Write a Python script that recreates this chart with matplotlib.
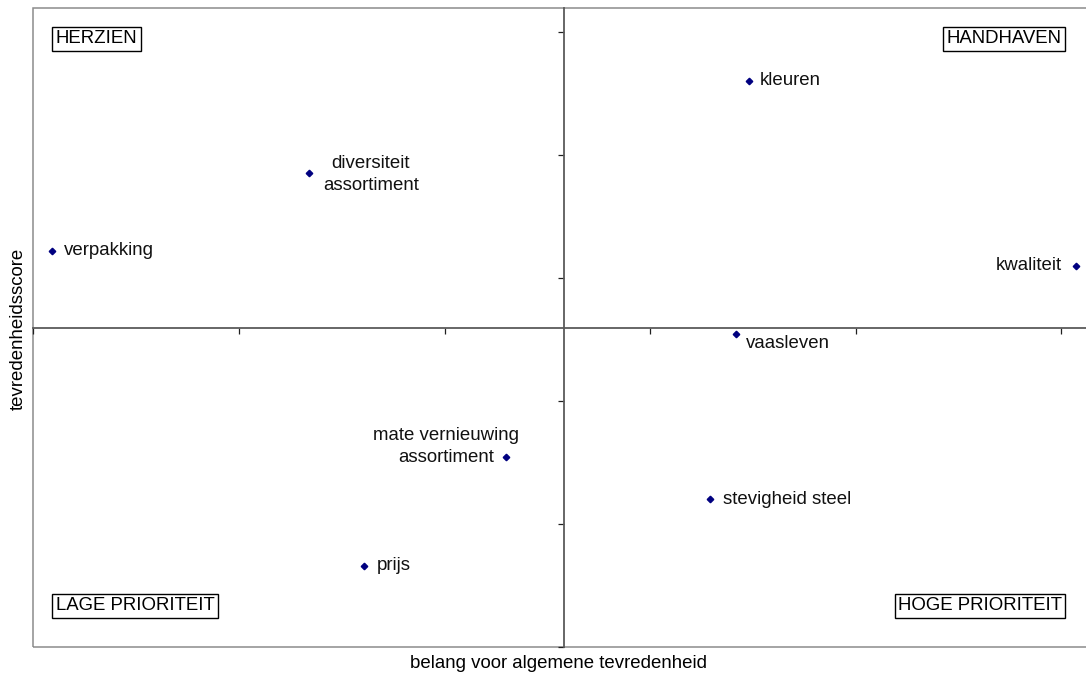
import matplotlib
matplotlib.use("Agg")
import matplotlib.pyplot as plt
from matplotlib.patches import Rectangle

plt.rcParams['font.family'] = ['Liberation Sans', 'DejaVu Sans']

# belang (x) en tevredenheid (y) per aspect
aspecten = ['verpakking', 'diversiteit\nassortiment', 'kleuren', 'kwaliteit',
            'vaasleven', 'mate vernieuwing\nassortiment', 'stevigheid steel', 'prijs']
belang = [0.309, 0.434, 0.648, 0.807, 0.642, 0.530, 0.629, 0.461]
tevredenheid = [7.645, 7.772, 7.921, 7.620, 7.509, 7.309, 7.241, 7.133]

# kruispunt van de assen (gemiddelden)
x_kruis = 0.558
y_kruis = 7.519

x_ticks = [0.3, 0.4, 0.5, 0.6, 0.7, 0.8]
y_ticks = [7.0, 7.2, 7.4, 7.6, 7.8, 8.0]

kwadranten = ['HERZIEN', 'HANDHAVEN', 'LAGE PRIORITEIT', 'HOGE PRIORITEIT']

# label offsets in pixels (dx, dy, ha)
label_pos = [(12, 0, 'left'), (62, -2, 'center'), (11, 0, 'left'), (-14, 0, 'right'),
             (9, -9, 'left'), (-60, 11, 'center'), (13, 0, 'left'), (12, 0, 'left')]

fig = plt.figure(figsize=(10.86, 6.75), dpi=100)
ax = fig.add_axes([33.3 / 1086, 27.7 / 675, 1056.7 / 1086, 639 / 675])
ax.set_xlim(0.3, 0.3 + 0.1 * 1056.7 / 205.6)
ax.set_ylim(7.0, 7.0 + 0.2 * 639 / 123)

# frame
ax.add_patch(Rectangle((0, 0), 1, 1, transform=ax.transAxes, fill=False,
                       edgecolor='#8c8c8c', lw=1.1, clip_on=False, zorder=1))

for s in ['top', 'right']:
    ax.spines[s].set_visible(False)
ax.spines['left'].set_position(('data', x_kruis))
ax.spines['bottom'].set_position(('data', y_kruis))
for s in ['left', 'bottom']:
    ax.spines[s].set_color('#5a5a5a')
    ax.spines[s].set_linewidth(1.3)

ax.set_xticks(x_ticks)
ax.set_yticks(y_ticks)
ax.set_xticklabels([])
ax.set_yticklabels([])
ax.tick_params(direction='out', length=4.5, width=0.9, color='#202020')

ax.plot(belang, tevredenheid, 'D', color='#000080', markersize=3.3, linestyle='none', zorder=3)

for naam, x, y, (dx, dy, ha) in zip(aspecten, belang, tevredenheid, label_pos):
    ax.annotate(naam, (x, y), xytext=(dx, dy), textcoords='offset pixels',
                ha=ha, va='center', multialignment='center', linespacing=1.35,
                fontsize=13.4, color='#111111')

box = dict(boxstyle='square,pad=0.18', facecolor='white', edgecolor='black', lw=1)
ax.text(0.0211, 0.9523, kwadranten[0], transform=ax.transAxes, ha='left', va='center',
        fontsize=13.4, bbox=box)
ax.text(0.9727, 0.9523, kwadranten[1], transform=ax.transAxes, ha='right', va='center',
        fontsize=13.4, bbox=box)
ax.text(0.0211, 0.0649, kwadranten[2], transform=ax.transAxes, ha='left', va='center',
        fontsize=13.4, bbox=box)
ax.text(0.9736, 0.0649, kwadranten[3], transform=ax.transAxes, ha='right', va='center',
        fontsize=13.4, bbox=box)

fig.text(559 / 1086, 1 - 663 / 675, 'belang voor algemene tevredenheid',
         ha='center', va='center', fontsize=13.4)
fig.text(18.5 / 1086, 1 - 329 / 675, 'tevredenheidsscore', rotation=90,
         ha='center', va='center', fontsize=13.4)

fig.savefig('out.png', dpi=100)
